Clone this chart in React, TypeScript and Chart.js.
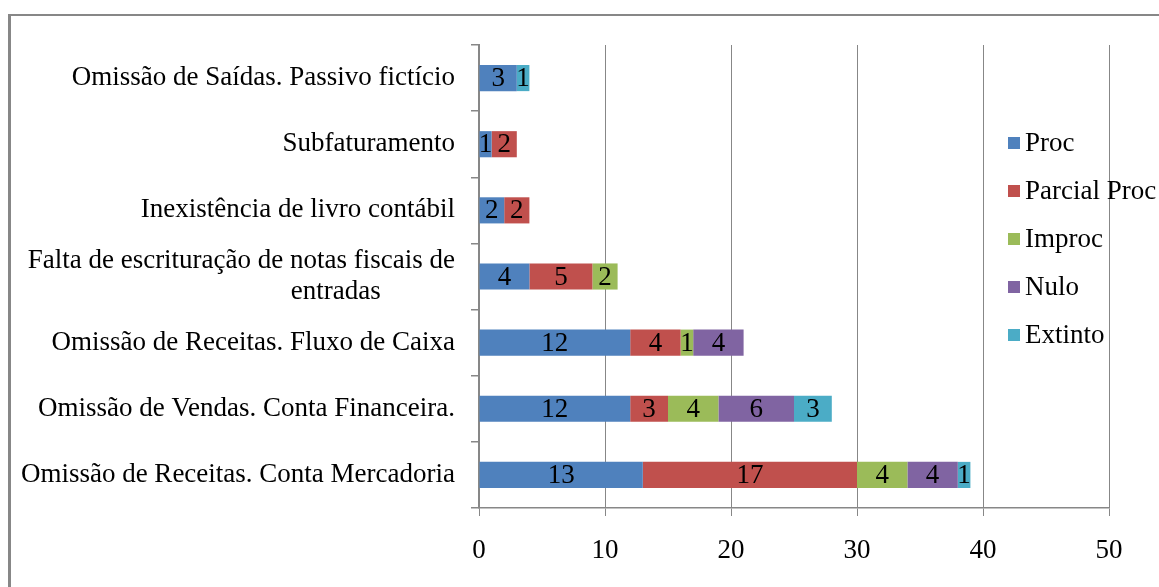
import React, { useEffect, useRef } from "react";
import { Chart, registerables } from "chart.js";

Chart.register(...registerables);

const categories: (string | string[])[] = [
  "Omissão de Saídas. Passivo fictício",
  "Subfaturamento",
  "Inexistência de livro contábil",
  ["Falta de escrituração de notas fiscais de", "entradas           "],
  "Omissão de Receitas. Fluxo de Caixa",
  "Omissão de Vendas. Conta Financeira.",
  "Omissão de Receitas. Conta Mercadoria",
];

const seriesNames = ["Proc", "Parcial Proc", "Improc", "Nulo", "Extinto"];
const procValues = [3, 1, 2, 4, 12, 12, 13];
const parcialValues = [0, 2, 2, 5, 4, 3, 17];
const improcValues = [0, 0, 0, 2, 1, 4, 4];
const nuloValues = [0, 0, 0, 0, 4, 6, 4];
const extintoValues = [1, 0, 0, 0, 0, 3, 1];
const seriesColors = ["#4F81BD", "#C0504D", "#9BBB59", "#8064A2", "#4BACC6"];

const xMin = 0;
const xMax = 50;
const xStep = 10;

const FONT_FAMILY = '"Liberation Serif", "Times New Roman", serif';
const FONT_SIZE = 27;
const AXIS_GRAY = "#878787";

const dataLabelPlugin = {
  id: "dataLabels",
  afterDatasetsDraw(chart: any) {
    const ctx = chart.ctx;
    ctx.save();
    ctx.font = `${FONT_SIZE}px ${FONT_FAMILY}`;
    ctx.fillStyle = "#000";
    ctx.textAlign = "center";
    ctx.textBaseline = "middle";
    chart.data.datasets.forEach((ds: any, di: number) => {
      const meta = chart.getDatasetMeta(di);
      meta.data.forEach((el: any, i: number) => {
        const v = ds.data[i];
        if (!v) return;
        const props = el.getProps(["x", "y", "base"], true);
        const cx = (props.x + props.base) / 2;
        ctx.fillText(String(v), cx, props.y + 1);
      });
    });
    ctx.restore();
  },
};

const customLegendPlugin = {
  id: "customLegend",
  afterDraw(chart: any) {
    const ctx = chart.ctx;
    ctx.save();
    ctx.font = `${FONT_SIZE}px ${FONT_FAMILY}`;
    ctx.textAlign = "left";
    ctx.textBaseline = "middle";
    const boxX = 1008;
    const textX = 1025;
    const startY = 143;
    const gap = 48;
    chart.data.datasets.forEach((ds: any, i: number) => {
      const cy = startY + i * gap;
      ctx.fillStyle = ds.backgroundColor;
      ctx.fillRect(boxX, cy - 6, 12, 12);
      ctx.fillStyle = "#000";
      ctx.fillText(ds.label, textX, cy + 1);
    });
    ctx.restore();
  },
};

export default function App() {
  const canvasRef = useRef<HTMLCanvasElement | null>(null);

  useEffect(() => {
    if (!canvasRef.current) return;
    const allValues = [procValues, parcialValues, improcValues, nuloValues, extintoValues];
    const chart = new Chart(canvasRef.current, {
      type: "bar",
      data: {
        labels: categories,
        datasets: seriesNames.map((name, i) => ({
          label: name,
          data: allValues[i],
          backgroundColor: seriesColors[i],
          borderWidth: 0,
          categoryPercentage: 1,
          barPercentage: 0.395,
        })),
      },
      options: {
        indexAxis: "y",
        responsive: false,
        animation: false,
        layout: { padding: { left: 0, right: 50, top: 45, bottom: 0 } },
        plugins: {
          legend: { display: false },
          tooltip: { enabled: false },
        },
        scales: {
          x: {
            stacked: true,
            min: xMin,
            max: xMax,
            ticks: {
              stepSize: xStep,
              color: "#000",
              padding: 19,
              font: { family: FONT_FAMILY, size: FONT_SIZE },
            },
            grid: {
              color: AXIS_GRAY,
              lineWidth: 1,
              drawTicks: true,
              tickLength: 8,
            },
            border: { display: true, color: AXIS_GRAY, width: 1.5 },
            afterFit(scale: any) {
              scale.height = 79;
            },
          },
          y: {
            stacked: true,
            ticks: {
              color: "#000",
              padding: 16,
              font: { family: FONT_FAMILY, size: FONT_SIZE, lineHeight: 1.12 },
            },
            grid: {
              display: true,
              drawOnChartArea: false,
              drawTicks: true,
              tickLength: 8,
              offset: true,
              color: AXIS_GRAY,
              lineWidth: 1.5,
            },
            border: { display: true, color: AXIS_GRAY, width: 2 },
            afterFit(scale: any) {
              scale.width = 479;
            },
          },
        },
      },
      plugins: [dataLabelPlugin, customLegendPlugin],
    } as any);
    return () => chart.destroy();
  }, []);

  return (
    <div
      style={{
        position: "fixed",
        left: 0,
        top: 0,
        width: 1159,
        height: 587,
        overflow: "hidden",
        background: "#fff",
      }}
    >
      <div
        style={{
          position: "absolute",
          left: 8,
          top: 14,
          width: 1300,
          height: 800,
          borderTop: `2px solid ${AXIS_GRAY}`,
          borderLeft: `3px solid ${AXIS_GRAY}`,
          boxSizing: "border-box",
        }}
      />
      <canvas
        ref={canvasRef}
        width={1159}
        height={587}
        style={{ position: "absolute", left: 0, top: 0, width: 1159, height: 587 }}
      />
    </div>
  );
}
